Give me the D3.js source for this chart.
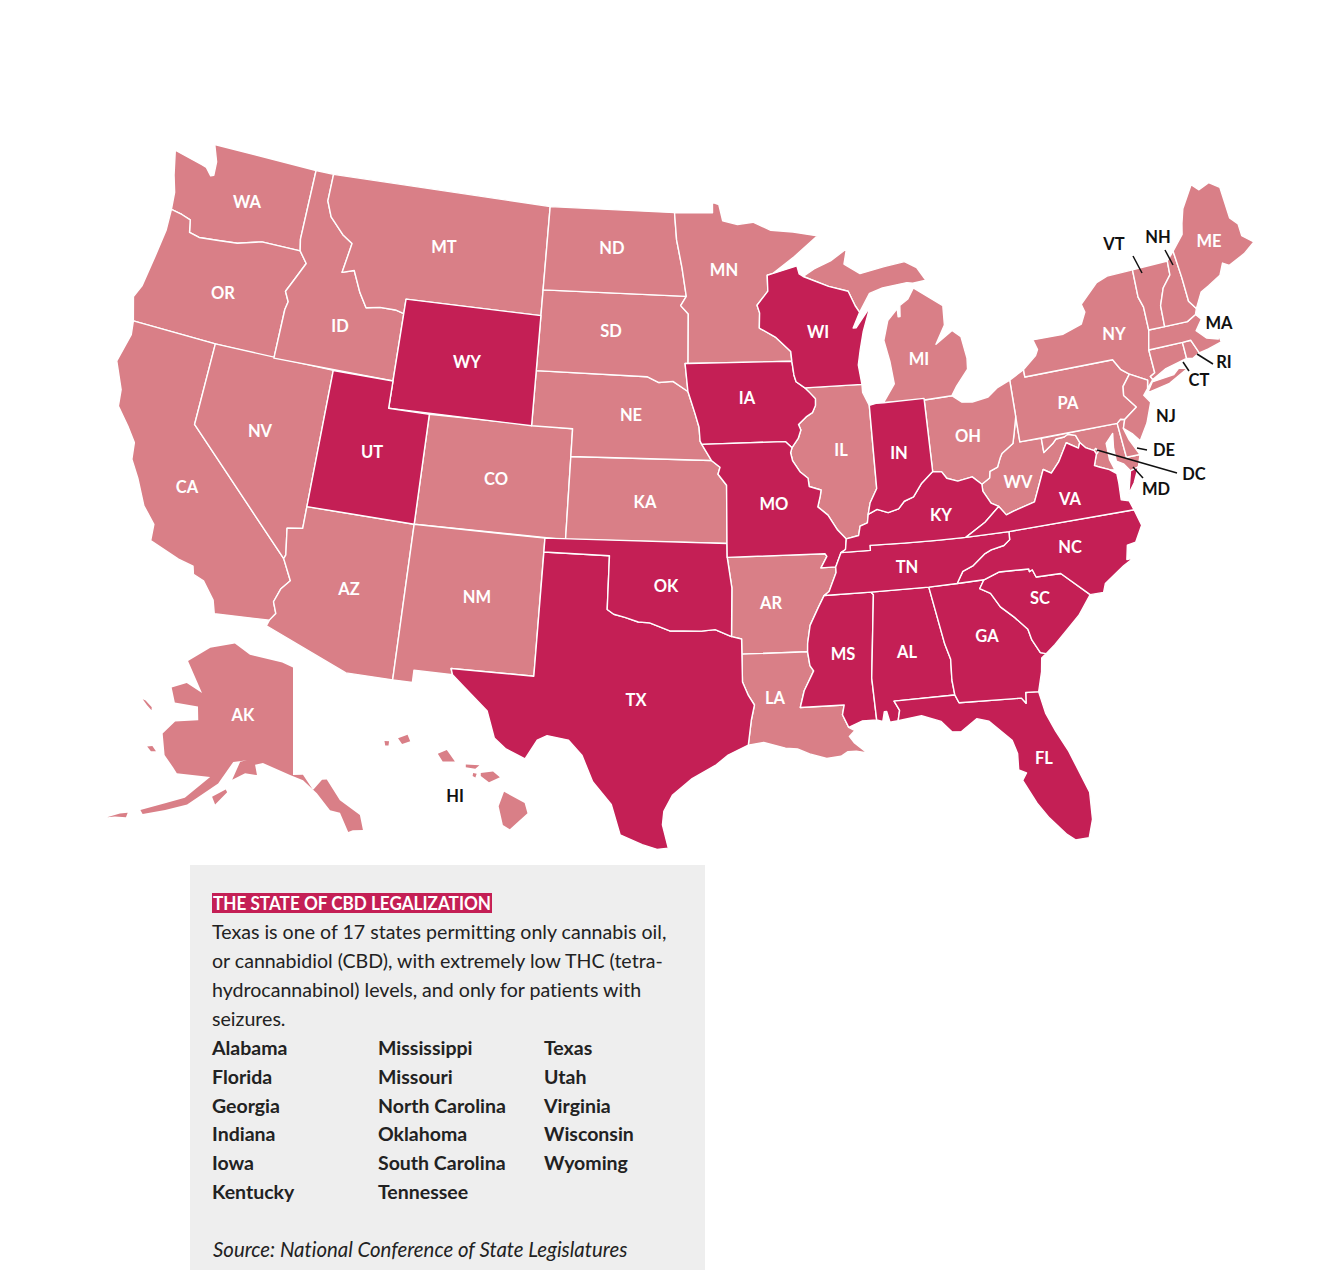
<!DOCTYPE html>
<meta charset="utf-8">
<head>
  <style>
    html, body { margin: 0; background: #fff; }
    svg { display: block; font-family: 'Lato', sans-serif; font-variant-ligatures: none; }
  </style>
  <script src="https://d3js.org/d3.v7.min.js"></script>
</head>
<body>
<div id="my_dataviz"></div>
<script>
// Chart content
const cbdOnly = ["AL","FL","GA","IN","IA","KY","MS","MO","NC","OK","SC","TN","TX","UT","VA","WI","WY"];
const panelTitle = "THE STATE OF CBD LEGALIZATION";
const panelBody = [
  "Texas is one of 17 states permitting only cannabis oil,",
  "or cannabidiol (CBD), with extremely low THC (tetra-",
  "hydrocannabinol) levels, and only for patients with",
  "seizures."
];
const listOne = ["Alabama","Florida","Georgia","Indiana","Iowa","Kentucky"];
const listTwo = ["Mississippi","Missouri","North Carolina","Oklahoma","South Carolina","Tennessee"];
const listThree = ["Texas","Utah","Virginia","Wisconsin","Wyoming"];
const sourceLine = "Source: National Conference of State Legislatures";

// Shared borders, lon/lat
const MN_WI = [[-92.01,46.71],[-92.29,46.66],[-92.29,46.08],[-92.88,45.58],[-92.76,45.3],[-92.8,44.75],[-92.0,44.4],[-91.25,43.85],[-91.22,43.5]];
const WI_IA = [[-91.22,43.5],[-91.15,43.0],[-91.06,42.75],[-90.64,42.51]];
const IA_IL = [[-90.64,42.51],[-90.42,42.33],[-90.15,42.1],[-90.17,41.85],[-90.34,41.6],[-90.66,41.46],[-91.05,41.2],[-90.95,41.0],[-91.1,40.7],[-91.42,40.38]];
const MO_IL = [[-91.42,40.38],[-91.5,40.2],[-91.42,39.9],[-91.1,39.5],[-90.73,39.25],[-90.7,38.95],[-90.15,38.8],[-90.2,38.6],[-90.35,38.2],[-89.9,37.88],[-89.5,37.32],[-89.13,36.98]];
const MO_KY = [[-89.13,36.98],[-89.2,36.6],[-89.42,36.5]];
const MO_TN = [[-89.42,36.5],[-89.7,36.0]];
const AR_TN = [[-89.7,36.0],[-89.7,35.8],[-90.07,35.13],[-90.3,35.0]];
const AR_MS = [[-90.3,35.0],[-90.58,34.6],[-91.0,33.95],[-91.15,33.3],[-91.17,33.0]];
const LA_MS = [[-91.17,33.0],[-91.1,32.5],[-90.95,32.3],[-91.4,31.6],[-91.6,31.0],[-89.73,31.0],[-89.83,30.65],[-89.6,30.18]];
const IL_KY = [[-89.13,36.98],[-88.55,37.07],[-88.45,37.4],[-88.1,37.5],[-88.03,37.8]];
const IN_KY = [[-88.03,37.8],[-87.6,37.95],[-87.1,37.8],[-86.6,37.9],[-86.3,38.15],[-85.85,38.27],[-85.4,38.73],[-84.82,39.1]];
const OH_KY = [[-84.82,39.1],[-84.4,39.05],[-84.2,38.8],[-83.7,38.65],[-83.0,38.73],[-82.6,38.42]];
const OH_WV = [[-82.6,38.42],[-82.2,38.6],[-82.14,38.84],[-81.75,38.95],[-81.56,39.27],[-81.45,39.41],[-80.86,39.7],[-80.72,40.07],[-80.52,40.64]];
const KY_WV = [[-82.6,38.42],[-82.6,38.17],[-82.3,37.7],[-81.97,37.54]];
const KY_VA = [[-81.97,37.54],[-82.7,37.05],[-83.67,36.6]];
const TN_VA = [[-83.67,36.6],[-81.68,36.59]];
const VA_NC = [[-81.68,36.59],[-75.87,36.55]];
const TN_KY = [[-83.67,36.6],[-85.0,36.62],[-86.5,36.65],[-88.07,36.68],[-88.07,36.5],[-89.42,36.5]];
const TN_NC = [[-81.68,36.59],[-81.7,36.3],[-82.0,36.12],[-82.6,36.03],[-82.9,35.93],[-83.5,35.56],[-84.0,35.4],[-84.32,34.99]];
const TN_MS = [[-90.3,35.0],[-88.2,35.0]];
const TN_AL = [[-88.2,35.0],[-85.6,34.98]];
const TN_GA = [[-85.6,34.98],[-84.32,34.99]];
const GA_NC = [[-84.32,34.99],[-83.11,35.0]];
const NC_SC = [[-83.11,35.0],[-82.4,35.2],[-81.05,35.15],[-81.04,35.05],[-80.9,35.1],[-80.78,34.82],[-79.67,34.8],[-78.55,33.86]];
const GA_SC = [[-83.11,35.0],[-83.35,34.7],[-82.9,34.48],[-82.55,33.95],[-82.0,33.5],[-81.5,33.0],[-81.4,32.6],[-81.12,32.1],[-80.88,32.03]];
const AL_GA = [[-85.6,34.98],[-85.18,32.87],[-85.0,32.3],[-85.05,31.55],[-85.0,31.0]];
const GA_FL = [[-85.0,31.0],[-84.86,30.7],[-82.21,30.57],[-82.05,30.36],[-82.0,30.75],[-81.45,30.71]];
const AL_FL = [[-85.0,31.0],[-87.6,31.0],[-87.4,30.65],[-87.5,30.28]];
const AL_MS = [[-88.2,35.0],[-88.1,34.9],[-88.47,31.9],[-88.4,30.37]];
const VA_WV = [[-77.72,39.32],[-77.83,39.13],[-78.35,39.4],[-78.87,38.77],[-79.3,38.42],[-79.65,38.6],[-80.3,37.5],[-81.3,37.3],[-81.68,37.2],[-81.97,37.54]];
const MD_WV = [[-79.48,39.72],[-79.48,39.2],[-79.0,39.45],[-78.8,39.6],[-78.4,39.62],[-78.2,39.69],[-77.85,39.6],[-77.72,39.32]];
const VA_MD = [[-76.3,37.95],[-76.6,38.15],[-77.0,38.3],[-77.25,38.4],[-77.05,38.8],[-77.12,38.93],[-77.5,39.1],[-77.72,39.32]];
const RED_RIVER = [[-100.0,34.56],[-99.7,34.4],[-99.2,34.3],[-98.6,34.15],[-98.1,34.13],[-97.2,33.85],[-96.6,33.85],[-95.8,33.85],[-95.2,33.9],[-94.48,33.64]];
const SABINE = [[-94.04,31.99],[-93.8,31.5],[-93.55,31.15],[-93.7,30.6],[-93.75,30.3],[-93.85,29.7]];
const SNAKE = [[-116.92,46.0],[-116.47,45.6],[-116.85,45.0],[-117.2,44.45],[-116.95,44.1],[-117.03,43.8],[-117.03,42.0]];
const MT_ID = [[-116.05,49.0],[-116.05,48.0],[-115.7,47.45],[-114.9,46.9],[-114.33,46.65],[-114.55,45.55],[-113.95,45.7],[-113.45,44.95],[-113.0,44.45],[-112.3,44.55],[-111.5,44.55],[-111.05,44.47]];
const WA_OR = [[-116.92,46.0],[-118.98,46.0],[-119.3,45.93],[-120.2,45.73],[-121.2,45.65],[-122.2,45.57],[-122.75,45.65],[-122.9,46.1],[-123.4,46.2],[-124.0,46.27]];
const CA_AZ = [[-114.72,32.72],[-114.5,33.0],[-114.7,33.4],[-114.5,33.9],[-114.15,34.26],[-114.63,35.0]];
const NE_SD = [[-104.05,43.0],[-98.5,43.0],[-97.9,42.8],[-97.2,42.85],[-96.45,42.49]];
const NE_IA = [[-96.45,42.49],[-96.1,41.7],[-95.9,41.2],[-95.85,40.7],[-95.77,40.58]];
const NE_MO = [[-95.77,40.58],[-95.31,40.0]];
const KS_MO = [[-95.31,40.0],[-94.9,39.75],[-95.0,39.5],[-94.6,39.1],[-94.62,37.0]];
const AR_OK = [[-94.62,36.5],[-94.43,35.4],[-94.48,33.64]];
const MN_DK = [[-97.23,49.0],[-97.1,48.0],[-96.8,47.0],[-96.56,45.94]];
const MN_SD = [[-96.56,45.94],[-96.85,45.6],[-96.45,45.3],[-96.45,43.5]];
const DEL_RIVER = [[-74.7,41.36],[-75.13,40.98],[-75.2,40.65],[-74.72,40.15],[-75.4,39.8]];
const NY_NJ = [[-74.0,40.7],[-73.9,41.0],[-74.7,41.36]];
const NY_PA = [[-75.35,42.0],[-75.07,41.6],[-74.7,41.36]];
const WI_UP = [[-90.4,46.55],[-89.1,46.13],[-88.1,45.9],[-87.8,45.35],[-87.6,45.1]];
const OH_LAKE = [[-83.45,41.73],[-83.0,41.45],[-82.5,41.4],[-81.7,41.5],[-81.2,41.77],[-80.52,41.98]];
const VT_NH = [[-71.5,45.01],[-71.55,44.5],[-72.05,44.1],[-72.4,43.5],[-72.46,42.73]];
const NY_VT = [[-73.35,45.01],[-73.4,44.0],[-73.25,43.6],[-73.27,42.75]];
const NH_ME = [[-71.08,45.3],[-71.0,44.3],[-70.98,43.4],[-70.7,43.07]];

const chain = (...parts) => parts.flat();
const rev = part => part.slice().reverse();

// State outlines, lon/lat
const WA = [chain([[-124.73,48.38],[-123.1,48.15],[-122.85,48.1],[-122.5,47.85],[-122.35,47.9],[-122.4,48.4],[-122.76,49.0],[-117.03,49.0],[-117.04,46.42]], WA_OR, [[-124.1,46.9],[-124.4,47.5]])];
const OR = [chain(rev(WA_OR), SNAKE, [[-120.0,42.0],[-124.2,42.0],[-124.55,42.84],[-124.3,43.3],[-124.1,44.5],[-123.95,45.5]])];
const CA = [chain([[-124.2,42.0],[-120.0,42.0],[-120.0,39.0]], rev(CA_AZ), [[-117.12,32.53],[-117.3,33.0],[-117.9,33.6],[-118.4,33.75],[-118.5,34.03],[-119.2,34.15],[-120.6,34.55],[-120.65,35.15],[-121.3,35.7],[-121.9,36.6],[-122.4,37.2],[-122.5,37.8],[-123.0,38.3],[-123.7,38.9],[-123.8,39.5],[-124.4,40.44],[-124.1,41.5]])];
const NV = [[[-120.0,42.0],[-114.04,42.0],[-114.05,37.0],[-114.05,36.2],[-114.75,36.1],[-114.57,35.15],[-114.63,35.0],[-120.0,39.0]]];
const ID = [chain([[-117.03,49.0]], MT_ID, [[-111.05,42.0],[-117.03,42.0]], rev(SNAKE), [[-117.04,46.42]])];
const MT = [chain([[-104.05,49.0],[-104.05,45.0],[-111.05,45.0]], rev(MT_ID))];
const WY = [[[-111.05,45.0],[-104.05,45.0],[-104.05,41.0],[-111.05,41.0]]];
const UT = [[[-114.04,42.0],[-111.05,42.0],[-111.05,41.0],[-109.05,41.0],[-109.05,37.0],[-114.05,37.0]]];
const AZ = [chain([[-114.05,37.0],[-109.05,37.0],[-109.05,31.33],[-111.07,31.33],[-114.8,32.5]], CA_AZ, [[-114.57,35.15],[-114.75,36.1],[-114.05,36.2]])];
const CO = [[[-109.05,41.0],[-102.05,41.0],[-102.05,37.0],[-109.05,37.0]]];
const NM = [[[-109.05,37.0],[-103.0,37.0],[-103.04,32.0],[-106.62,32.0],[-106.53,31.78],[-108.2,31.78],[-108.2,31.33],[-109.05,31.33]]];
const TX = [chain([[-103.0,36.5],[-100.0,36.5]], RED_RIVER, [[-94.04,33.55],[-94.04,33.0]], SABINE, [[-94.7,29.35],[-95.2,29.0],[-96.2,28.5],[-97.0,27.9],[-97.35,27.3],[-97.4,26.8],[-97.15,25.95],[-97.6,25.9],[-98.2,26.06],[-99.1,26.4],[-99.5,27.5],[-100.3,28.3],[-100.8,29.25],[-101.4,29.77],[-102.3,29.88],[-102.7,29.7],[-103.15,28.98],[-104.0,29.3],[-104.5,29.65],[-104.9,30.6],[-106.0,31.4],[-106.53,31.78],[-106.62,32.0],[-103.04,32.0]])];
const OK = [chain([[-103.0,37.0],[-94.62,37.0]], AR_OK, rev(RED_RIVER), [[-100.0,36.5],[-103.0,36.5]])];
const KS = [chain([[-102.05,40.0]], KS_MO, [[-102.05,37.0]])];
const NE = [chain(NE_SD, NE_IA, NE_MO, [[-102.05,40.0],[-102.05,41.0],[-104.05,41.0]])];
const SD = [chain([[-104.05,45.94]], MN_SD, [[-96.6,43.5]], rev(NE_SD))];
const ND = [chain([[-104.05,49.0]], MN_DK, [[-104.05,45.94]])];
const MN = [chain(MN_DK, MN_SD, [[-91.22,43.5]], rev(MN_WI), [[-90.8,47.3],[-89.5,48.0],[-90.8,48.2],[-92.0,48.3],[-92.95,48.62],[-93.8,48.55],[-94.6,48.7],[-94.8,49.3],[-95.15,49.38],[-95.15,49.0]])];
const IA = [chain([[-96.45,43.5]], WI_IA, IA_IL, [[-91.73,40.61]], rev(NE_IA), [[-96.6,43.5]])];
const MO = [chain(NE_MO, KS_MO, [[-94.62,36.5],[-90.15,36.5],[-90.07,36.4],[-90.37,36.0]], rev(MO_TN), rev(MO_KY), rev(MO_IL), [[-91.73,40.61]])];
const AR = [chain([[-94.62,36.5],[-90.15,36.5],[-90.07,36.4],[-90.37,36.0]], AR_TN, AR_MS, [[-94.04,33.0],[-94.04,33.55]], rev(AR_OK))];
const LA = [chain([[-94.04,33.0]], LA_MS, [[-89.35,30.05],[-89.6,29.85],[-89.4,29.6],[-88.9,29.2],[-89.35,29.3],[-89.7,29.3],[-90.0,29.15],[-90.6,29.1],[-91.3,29.3],[-91.8,29.5],[-92.3,29.55],[-93.2,29.78]], rev(SABINE))];
const MS = [chain(TN_MS, AL_MS, [[-89.0,30.38]], rev(LA_MS), rev(AR_MS))];
const AL = [chain(TN_AL, AL_GA, AL_FL, [[-87.85,30.25],[-87.95,30.65],[-88.05,30.65],[-88.15,30.3]], rev(AL_MS))];
const FL = [chain([[-87.5,30.28],[-86.5,30.38],[-85.7,30.1],[-85.3,29.68],[-84.9,29.65],[-84.2,30.05],[-83.7,29.9],[-82.85,29.1],[-82.7,28.6],[-82.75,28.0],[-82.45,27.85],[-82.65,27.6],[-82.2,26.7],[-81.8,26.1],[-81.2,25.4],[-80.9,25.15],[-80.35,25.15],[-80.1,25.8],[-80.03,26.8],[-80.6,28.4],[-81.0,29.2],[-81.3,29.9]], rev(GA_FL), AL_FL)];
const GA = [chain(TN_GA, GA_NC, GA_SC, [[-81.1,31.9],[-81.2,31.4]], rev(GA_FL), rev(AL_GA))];
const SC = [chain(NC_SC, [[-79.2,33.2],[-79.9,32.7],[-80.45,32.3]], rev(GA_SC))];
const NC = [chain(VA_NC, [[-75.68,35.95],[-76.1,35.4],[-76.5,35.35],[-76.65,34.85],[-76.35,34.85],[-76.85,34.65],[-77.8,34.15],[-77.95,33.85]], rev(NC_SC), rev(GA_NC), rev(TN_NC))];
const TN = [chain(TN_VA, TN_NC, rev(TN_GA), rev(TN_AL), rev(TN_MS), rev(AR_TN), rev(MO_TN), rev(TN_KY))];
const KY = [chain(IL_KY, IN_KY, OH_KY, KY_WV, KY_VA, TN_KY, rev(MO_KY))];
const VA = [chain(KY_VA.slice(-1), TN_VA, VA_NC, [[-76.0,36.9],[-76.35,37.0],[-76.3,37.6]], VA_MD, VA_WV, KY_VA),
  [[-75.95,37.15],[-75.65,37.95],[-75.25,38.03],[-75.6,37.5]]];
const WV = [chain(OH_WV, [[-80.52,39.72]], MD_WV, VA_WV, rev(KY_WV))];
const MD = [chain([[-79.48,39.72],[-75.79,39.72],[-75.7,38.46],[-75.05,38.45],[-75.25,38.03],[-75.65,37.95],[-75.9,38.25],[-76.2,38.4],[-76.2,38.9],[-76.1,39.4],[-76.5,39.1],[-76.5,38.5],[-76.35,38.1]], VA_MD.slice(1), rev(MD_WV))];
const DE = [[[-75.79,39.72],[-75.6,39.84],[-75.4,39.8],[-75.55,39.5],[-75.4,39.05],[-75.05,38.45],[-75.7,38.46]]];
const DC = [[[-77.12,38.93],[-77.04,39.0],[-76.91,38.89],[-77.04,38.79]]];
const PA = [chain([[-80.52,41.98],[-80.08,42.15],[-79.76,42.27],[-79.76,42.0]], NY_PA, DEL_RIVER, [[-75.6,39.84],[-75.79,39.72],[-80.52,39.72],[-80.52,40.64]])];
const OH = [chain([[-84.82,41.7]], OH_LAKE, rev(OH_WV), rev(OH_KY))];
const IN = [chain([[-87.53,41.71],[-87.2,41.76],[-86.82,41.76],[-84.82,41.76]], rev(IN_KY), [[-87.9,38.2],[-87.53,38.7],[-87.53,39.35]])];
const IL = [chain([[-90.64,42.51],[-87.8,42.49],[-87.8,42.2],[-87.53,41.71],[-87.53,39.35],[-87.53,38.7],[-87.9,38.2]], rev(IL_KY), rev(MO_IL), rev(IA_IL))];
const WI = [chain([[-92.01,46.71],[-90.7,46.95],[-90.6,46.65]], WI_UP, [[-88.0,44.55],[-87.85,44.55],[-87.05,45.25],[-87.5,44.4],[-87.75,43.7],[-87.9,43.2],[-87.8,42.49]], rev(WI_IA), rev(MN_WI))];
const MI = [[[-86.82,41.76],[-84.82,41.7],[-83.45,41.73],[-83.15,42.05],[-82.5,42.6],[-82.45,43.0],[-82.6,43.8],[-83.0,44.07],[-83.9,43.65],[-83.35,44.3],[-83.3,45.0],[-84.7,45.78],[-85.05,45.4],[-85.5,45.2],[-85.55,44.8],[-85.65,44.8],[-85.65,45.1],[-86.2,44.7],[-86.5,44.0],[-86.3,43.2],[-86.2,42.4]],
  chain(WI_UP, [[-87.0,45.75],[-86.3,45.9],[-85.0,46.0],[-84.7,45.95],[-84.0,46.0],[-84.4,46.5],[-85.0,46.77],[-86.1,46.67],[-87.4,46.5],[-88.2,46.9],[-88.0,47.45],[-88.9,47.05],[-89.8,46.8]])];
const NY = [chain([[-79.76,42.27],[-79.05,42.7],[-78.9,42.9],[-79.05,43.27],[-77.5,43.27],[-76.5,43.5],[-76.2,43.9],[-76.3,44.2],[-75.3,44.85],[-74.7,45.0]], NY_VT, [[-73.5,42.05],[-73.48,41.2],[-73.73,41.1],[-73.65,40.98]], NY_NJ, rev(NY_PA), [[-79.76,42.0]]),
  [[-74.0,40.6],[-73.7,40.9],[-72.6,40.97],[-72.3,41.15],[-71.87,41.07],[-72.9,40.7],[-73.9,40.57]]];
const NJ = [chain(NY_NJ, DEL_RIVER, [[-75.55,39.5],[-75.2,39.25],[-74.9,38.93],[-74.4,39.5],[-74.0,40.2],[-74.25,40.5]])];
const CT = [[[-73.5,42.05],[-71.8,42.02],[-71.8,41.42],[-72.9,41.25],[-73.65,40.98],[-73.73,41.1],[-73.48,41.2]]];
const RI = [[[-71.8,42.02],[-71.38,42.02],[-71.13,41.5],[-71.5,41.37],[-71.8,41.42]]];
const MA = [[[-73.27,42.75],[-72.46,42.73],[-71.3,42.7],[-70.82,42.87],[-70.6,42.65],[-71.0,42.3],[-70.6,41.95],[-70.05,41.8],[-70.0,42.07],[-69.95,41.67],[-70.65,41.55],[-71.13,41.5],[-71.38,42.02],[-71.8,42.02],[-73.5,42.05]]];
const VT = [chain(rev(NY_VT), VT_NH)];
const NH = [chain(VT_NH, [[-71.3,42.7],[-70.82,42.87]], rev(NH_ME))];
const ME = [chain(NH_ME, [[-70.25,43.6],[-69.8,43.75],[-69.1,44.0],[-68.8,44.4],[-68.5,44.25],[-67.6,44.5],[-66.95,44.8],[-67.45,45.15],[-67.45,45.6],[-67.78,45.9],[-67.8,47.07],[-68.3,47.35],[-68.9,47.2],[-69.23,47.46],[-70.0,46.7],[-70.25,46.2],[-70.4,45.8]])];
const AK = [[[-141,69.4],[-141,60.3],[-139.3,60.3],[-137.7,59.0],[-136.1,59.8],[-135.3,59.8],[-133.5,57.95],[-130.7,56.5],[-130.6,55.2],[-132.1,55.3],[-132.8,55.2],[-133.7,56.9],[-135.2,57.2],[-137.1,58.7],[-139.3,59.85],[-141.5,60.3],[-146.3,61.2],[-147.65,61.0],[-147.15,60.15],[-149.2,60.2],[-151.2,59.5],[-150.3,61.1],[-149.15,61.3],[-151.5,61.0],[-153.4,59.0],[-157.5,56.7],[-160.5,55.75],[-163.5,54.85],[-164,55.1],[-160.8,56.3],[-158.1,57.2],[-154.9,59.4],[-160.4,59.0],[-161.3,59.4],[-163.3,60.15],[-164.9,61.8],[-163.5,63.1],[-159.4,63.8],[-160.2,64.9],[-164.8,64.6],[-166.5,65.7],[-163.9,66.5],[-160.2,66.1],[-165.3,68.3],[-161.4,70.0],[-155.8,70.9],[-151.6,70.2],[-143.6,69.8]],
  [[-153.95,57.8],[-152,58.6],[-151.7,58.4],[-153.25,57.2]],
  [[-170.8,63.8],[-170.2,63.8],[-168.6,63.5],[-168.4,63.25],[-169.6,63.5]],
  [[-166.6,60.3],[-165.8,60.5],[-164.9,60.2],[-165.7,60.05]],
  [[-168.1,53.5],[-166.6,54.2],[-165.6,54.5],[-165.6,54.1],[-167.1,53.8]]];
const HI = [[[-155.85,20.25],[-155.1,19.85],[-155.0,19.5],[-155.65,18.95],[-155.9,19.1],[-156.05,19.75]],
  [[-156.7,20.9],[-156.25,20.95],[-156.0,20.75],[-156.4,20.58],[-156.7,20.8]],
  [[-157.25,21.2],[-156.75,21.17],[-156.9,21.05],[-157.25,21.1]],
  [[-156.98,20.9],[-156.85,20.88],[-156.9,20.75],[-157.0,20.8]],
  [[-158.28,21.57],[-157.95,21.7],[-157.65,21.3],[-158.1,21.3]],
  [[-159.75,22.1],[-159.4,22.23],[-159.3,22.0],[-159.6,21.9]],
  [[-160.25,22.0],[-160.08,22.0],[-160.1,21.85],[-160.22,21.85]]];

const lowerStates = {WA,OR,CA,NV,ID,MT,WY,UT,AZ,CO,NM,TX,OK,KS,NE,SD,ND,MN,IA,MO,AR,LA,MS,AL,FL,GA,SC,NC,TN,KY,VA,WV,MD,DE,DC,PA,OH,IN,IL,WI,MI,NY,NJ,CT,RI,MA,VT,NH,ME};

// Label layout
const stateLabels = [["WA",247,202],["OR",223,293],["CA",187,487],["NV",260,431],["ID",340,326],["MT",444,247],["WY",467,362],["UT",372,452],["AZ",349,589],["CO",496,479],["NM",477,597],["ND",612,248],["SD",611,331],["NE",631,415],["KA",645,502],["OK",666,586],["TX",636,700],["MN",724,270],["IA",747,398],["MO",774,504],["AR",771,603],["LA",775,698],["WI",818,332],["IL",841,450],["IN",899,453],["MI",919,359],["OH",968,436],["KY",941,515],["TN",907,567],["MS",843,654],["AL",907,652],["GA",987,636],["FL",1044,758],["SC",1040,598],["NC",1070,547],["VA",1070,499],["WV",1018,482],["PA",1068,403],["NY",1114,334],["ME",1209,241],["AK",243,715]];
const outsideLabels = [["VT",1114,244],["NH",1158,237],["MA",1219,323],["RI",1224,362],["CT",1199,380],["NJ",1166,416],["DE",1164,450],["DC",1194,474],["MD",1156,489],["HI",455,796]];
const leaders = [[1133,256,1142,273],[1165,250,1173,265],[1197,354,1213,364],[1183,362,1189,371],[1137,448,1147,450],[1097,450,1177,473],[1133,467,1143,478]];

const DARK = "#C41F55", LIGHT = "#D97F87", INK = "#222222";

const svg = d3.select("#my_dataviz").append("svg").attr("width", 1329).attr("height", 1270);

// Projections: lower 48 plus the two insets
const lowerProj = d3.geoAlbers().rotate([96,0]).center([0,38]).parallels([29.5,45.5]).scale(1575).translate([697,516]);
const alaskaProj = d3.geoConicEqualArea().rotate([141,0]).center([0,60.3]).parallels([55,65]).scale(678).translate([293,775]);
const hawaiiProj = d3.geoConicEqualArea().rotate([157.5,0]).center([0,20.8]).parallels([8,18]).scale(1660).translate([459,776]);

const pathFor = proj => d3.geoPath(d3.geoTransform({
  point(x, y) { const p = proj([x, y]); this.stream.point(p[0], p[1]); }
}));
const toFeature = (id, rings) => ({
  type: "Feature", id,
  geometry: { type: "MultiPolygon", coordinates: rings.map(r => [r.concat([r[0]])]) }
});

const features = Object.keys(lowerStates).map(id => toFeature(id, lowerStates[id]));
// dark states go on top so their outline stays whole
features.sort((a, b) => cbdOnly.includes(a.id) - cbdOnly.includes(b.id));

svg.append("g").selectAll("path")
  .data(features)
  .join("path")
  .attr("d", pathFor(lowerProj))
  .attr("fill", d => cbdOnly.includes(d.id) ? DARK : LIGHT)
  .attr("stroke", "#fff")
  .attr("stroke-width", 1.4)
  .attr("stroke-linejoin", "round");

svg.append("path").datum(toFeature("AK", AK)).attr("d", pathFor(alaskaProj)).attr("fill", LIGHT);
svg.append("path").datum(toFeature("HI", HI)).attr("d", pathFor(hawaiiProj)).attr("fill", LIGHT);

// State labels
svg.append("g").selectAll("text")
  .data(stateLabels)
  .join("text")
  .attr("x", d => d[1]).attr("y", d => d[2])
  .attr("dy", "0.36em")
  .attr("text-anchor", "middle")
  .attr("fill", "#fff")
  .style("font-size", "16.5px").style("font-weight", 700)
  .text(d => d[0]);

svg.append("g").selectAll("line")
  .data(leaders)
  .join("line")
  .attr("x1", d => d[0]).attr("y1", d => d[1]).attr("x2", d => d[2]).attr("y2", d => d[3])
  .attr("stroke", "#111").attr("stroke-width", 1.5);

svg.append("g").selectAll("text")
  .data(outsideLabels)
  .join("text")
  .attr("x", d => d[1]).attr("y", d => d[2])
  .attr("dy", "0.36em")
  .attr("text-anchor", "middle")
  .attr("fill", "#111")
  .style("font-size", "16.5px").style("font-weight", 700)
  .text(d => d[0]);

// Text panel
const panel = svg.append("g");
panel.append("rect").attr("x", 190).attr("y", 865).attr("width", 515).attr("height", 405).attr("fill", "#EEEEEE");
panel.append("rect").attr("x", 212).attr("y", 893).attr("width", 280).attr("height", 20).attr("fill", DARK);
panel.append("text").attr("x", 213).attr("y", 909.5).attr("fill", "#fff")
  .style("font-size", "19px").style("font-weight", 700).attr("textLength", 278).attr("lengthAdjust", "spacingAndGlyphs")
  .text(panelTitle);

panel.selectAll(".body").data(panelBody).join("text").attr("class", "body")
  .attr("x", 212).attr("y", (d, i) => 939 + i * 29)
  .attr("fill", INK).style("font-size", "19.6px")
  .text(d => d);

[[listOne, 212], [listTwo, 378], [listThree, 544]].forEach(([names, x]) => {
  panel.selectAll(null).data(names).join("text")
    .attr("x", x).attr("y", (d, i) => 1055 + i * 28.8)
    .attr("fill", INK).style("font-size", "19.5px").style("font-weight", 700)
    .text(d => d);
});

panel.append("text").attr("x", 213).attr("y", 1257).attr("fill", INK)
  .style("font-size", "20.4px").style("font-style", "italic")
  .text(sourceLine);
</script>
</body>
